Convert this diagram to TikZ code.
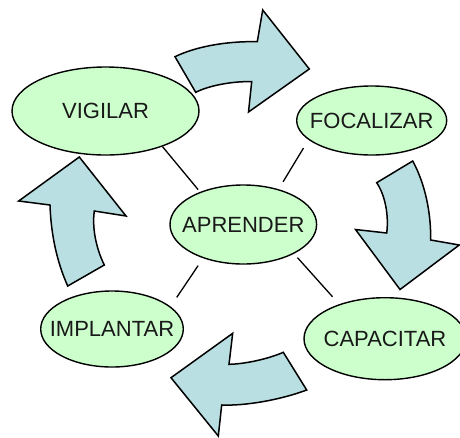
\documentclass[tikz,border=0pt]{standalone}
\usepackage{fontspec}
\setmainfont{Liberation Sans}
\usetikzlibrary{shapes.geometric}
\definecolor{arrowfill}{RGB}{185,223,227}
\definecolor{ellfill}{RGB}{204,255,204}
\tikzset{
  ell/.style={ellipse, draw=black, line width=1.4pt, fill=ellfill, inner sep=0pt},
  lbl/.style={font=\fontsize{22}{25}\selectfont, text=black!90},
  bigarrow/.style={draw=black, line width=1.5pt, fill=arrowfill, line join=miter},
  conn/.style={draw=black, line width=1.3pt}
}
\begin{document}
\begin{tikzpicture}[x=1pt,y=-1pt]
\useasboundingbox (0,0) rectangle (460,437);
% curved arrows
\path[bigarrow] (175,56.7) .. controls (195,47) and (225,41) .. (257.3,41.7) -- (262.7,10) -- (309.3,69) -- (248.5,112) -- (251.7,81.7) .. controls (235,81) and (210,85) .. (195.7,92.3) -- cycle;
\path[bigarrow] (412.7,161) .. controls (422,178) and (431,205) .. (430.7,240) -- (459.3,245) -- (400,289.5) -- (355.5,229.5) -- (386.7,233) .. controls (389,215) and (385,195) .. (376.7,182.7) -- cycle;
\path[bigarrow] (306.7,390) -- (283.3,352.3) .. controls (268,359) and (245,364) .. (229,364.3) -- (232.7,333.3) -- (171,377.7) -- (218.3,436) -- (221.7,405) .. controls (245,406) and (280,400) .. (306.7,390) -- cycle;
\path[bigarrow] (67.7,286) -- (104.3,265) .. controls (96,248) and (92,228) .. (94.3,211) -- (126,216) -- (79.3,157) -- (18.7,201) -- (50,205) .. controls (51,235) and (57,262) .. (67.7,286) -- cycle;
% ellipses
\node[ell, minimum width=187pt, minimum height=88pt, label={[lbl]center:VIGILAR}] (vig) at (105.5,111) {};
\node[ell, minimum width=150pt, minimum height=69pt, label={[lbl]center:FOCALIZAR}] (foc) at (371.7,120.5) {};
\node[ell, minimum width=146.6pt, minimum height=79pt, label={[lbl]center:APRENDER}] (apr) at (243.3,224.5) {};
\node[ell, minimum width=142.6pt, minimum height=76pt, label={[lbl]center:IMPLANTAR}] (imp) at (112,329) {};
\node[ell, minimum width=162pt, minimum height=82pt, label={[lbl]center:CAPACITAR}] (cap) at (385,338.7) {};
% connectors
\draw[conn, shorten >=3pt] (vig.-32) -- (apr.143);
\draw[conn, shorten <=9.6pt, shorten >=8.6pt] (foc.197) -- (apr.45);
\draw[conn, shorten <=11pt, shorten >=8.9pt] (imp.21.5) -- (apr.220);
\draw[conn, shorten <=5.2pt, shorten >=9.9pt] (apr.-30) -- (cap.143);
\end{tikzpicture}
\end{document}
